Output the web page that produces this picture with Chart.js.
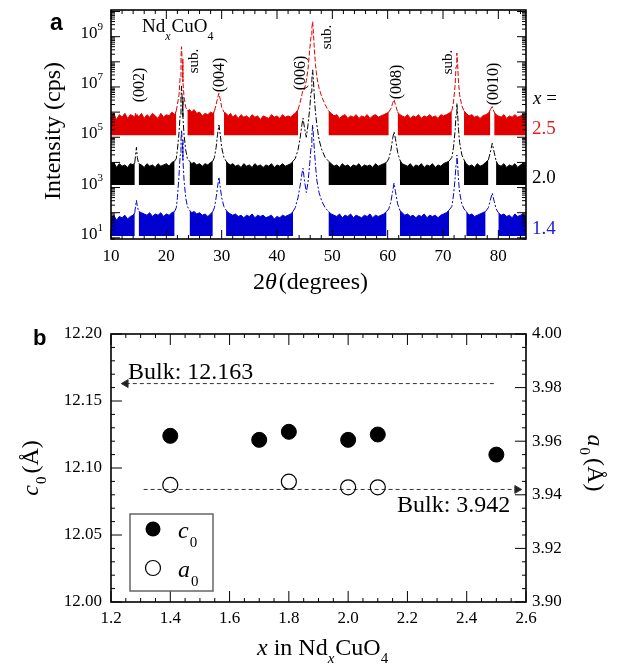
<!DOCTYPE html>
<html><head><meta charset="utf-8">
<script src="https://cdn.jsdelivr.net/npm/chart.js@4.4.0/dist/chart.umd.min.js"></script>
<style>
html,body{margin:0;padding:0;background:#fff;}
#wrap{position:relative;width:619px;height:667px;overflow:hidden;}
canvas{position:absolute;left:0;}
#ca{top:0;} #cb{top:300px;}
</style></head><body>
<div id="wrap"><canvas id="ca" width="619" height="300"></canvas><canvas id="cb" width="619" height="367"></canvas></div>
<script>
// ---------------- Panel a : XRD scans (log10 of intensity, cps) ----------------
const twoTheta = [
  10,10.5,11,11.5,12,12.5,13,13.5,14,
  14.3,14.45,14.6,14.75,15,
  15.5,16,16.5,17,17.5,18,18.5,19,19.5,20,20.5,21,21.5,
  21.8,22,22.3,22.5,22.65,22.75,22.85,23,23.2,23.5,23.8,
  24.2,24.6,25,25.5,26,26.5,27,27.5,28,28.4,
  28.7,29,29.25,29.5,29.75,30,30.4,
  30.8,31.2,31.6,32,32.5,33,33.5,34,34.5,35,35.5,36,36.5,37,37.5,38,38.5,39,39.5,40,40.5,41,41.5,42,42.5,42.9,
  43.3,43.8,44.2,44.5,44.7,44.95,45.3,45.6,45.9,46.15,46.3,46.45,46.6,46.75,46.95,47.2,47.6,48.1,48.7,49.3,
  49.8,50.3,50.8,51.3,51.8,52.3,52.8,53.3,53.8,54.3,54.8,55.3,55.8,56.3,56.8,57.3,57.8,58.3,58.8,59.3,59.8,
  60.2,60.6,60.9,61.15,61.4,61.8,62.2,
  62.6,63.1,63.6,64.1,64.6,65.1,65.6,66.1,66.6,67.1,67.6,68.1,68.6,69.1,69.6,70.1,70.6,71.1,
  71.6,71.9,72.2,72.35,72.5,72.65,72.8,73,73.4,73.8,
  74.2,74.7,75.2,75.7,76.2,76.7,77.2,77.7,
  78.2,78.55,78.9,79.25,79.6,
  80,80.5,81,81.5,82,82.5,83,83.5,84,84.5,85
];
const logI_x25 = [
  5.75,5.95,5.7,5.9,5.8,5.95,5.75,5.9,5.85,
  5.8,5.95,5.85,5.9,5.8,
  5.95,5.75,5.9,5.8,5.95,5.85,5.75,5.95,5.8,5.9,5.85,6.0,5.9,
  6.05,6.3,6.7,7.4,8.2,8.6,8.1,7.2,6.6,6.2,6.05,
  6.1,6.0,6.1,5.95,6.0,5.85,5.95,5.9,6.0,5.95,
  6.05,6.3,6.55,6.75,6.5,6.2,6.0,
  5.95,5.85,5.95,5.8,5.9,5.75,5.9,5.8,5.85,5.75,5.9,5.8,5.85,5.7,5.85,5.8,5.75,5.9,5.8,5.85,5.75,5.9,5.8,5.85,5.8,5.9,
  5.95,6.1,6.4,6.7,6.88,6.9,7.25,7.7,8.45,9.0,9.35,9.6,9.1,8.5,7.9,7.4,6.95,6.6,6.3,6.05,
  5.95,5.85,5.9,5.75,5.85,5.9,5.75,5.85,5.8,5.9,5.75,5.85,5.8,5.9,5.75,5.85,5.9,5.8,5.85,5.9,5.95,
  6.0,6.15,6.35,6.5,6.3,6.0,5.9,
  5.85,5.8,5.9,5.75,5.85,5.8,5.9,5.75,5.85,5.8,5.9,5.8,5.85,5.75,5.9,5.85,5.9,5.95,
  6.05,6.4,7.1,7.8,8.35,7.9,7.2,6.7,6.25,6.05,
  5.95,5.85,5.9,5.8,5.85,5.75,5.85,5.9,
  5.95,6.1,6.22,6.0,5.9,
  5.85,5.8,5.9,5.75,5.85,5.8,5.9,5.8,5.85,5.9,5.8
];
const logI_x20 = [
  3.85,4.0,3.8,3.95,3.85,3.9,3.8,3.95,3.9,
  4.0,4.3,4.6,4.2,3.95,
  3.9,3.8,3.95,3.85,3.9,3.8,3.95,3.85,3.9,3.95,3.85,4.0,4.05,
  4.15,4.5,5.2,5.9,6.6,7.04,6.6,5.8,5.1,4.5,4.15,
  4.05,3.95,4.0,3.9,3.95,3.85,3.95,3.9,4.0,4.05,
  4.2,4.6,5.1,5.49,5.1,4.6,4.2,
  4.05,3.95,3.9,3.95,3.85,3.9,3.8,3.95,3.85,3.9,3.8,3.95,3.85,3.9,3.8,3.9,3.85,3.95,3.8,3.9,3.85,3.95,3.85,3.9,3.95,4.05,
  4.15,4.5,5.0,5.5,5.76,5.4,5.0,5.5,6.1,6.8,7.3,7.68,7.2,6.6,6.0,5.5,4.9,4.5,4.2,4.05,
  3.95,3.85,3.9,3.8,3.95,3.85,3.9,3.8,3.9,3.85,3.95,3.8,3.9,3.85,3.9,3.8,3.95,3.85,3.9,3.95,4.0,
  4.15,4.5,4.95,5.22,4.95,4.4,4.1,
  3.95,3.9,3.85,3.95,3.8,3.9,3.85,3.95,3.8,3.9,3.85,3.95,3.8,3.9,3.85,3.95,4.0,4.05,
  4.2,4.6,5.3,5.9,6.35,5.9,5.3,4.8,4.3,4.1,
  3.95,3.85,3.9,3.8,3.95,3.85,3.9,4.0,
  4.1,4.4,4.76,4.4,4.05,
  3.9,3.85,3.95,3.8,3.9,3.85,3.95,3.8,3.9,3.95,3.85
];
const logI_x14 = [
  1.75,1.9,1.7,1.85,1.8,1.9,1.75,1.85,1.9,
  2.0,2.3,2.49,2.25,2.05,
  2.0,1.95,1.9,2.0,1.85,1.95,1.9,2.0,1.85,1.95,1.9,2.0,2.05,
  2.2,2.6,3.5,4.3,4.9,5.29,4.9,4.1,3.3,2.6,2.25,
  2.1,2.0,2.05,1.95,2.0,1.9,1.95,1.85,1.95,2.05,
  2.2,2.6,3.0,3.42,3.0,2.6,2.25,
  2.1,2.0,1.95,1.9,1.95,1.85,1.9,1.8,1.9,1.85,1.95,1.8,1.9,1.85,1.9,1.8,1.85,1.9,1.75,1.85,1.8,1.9,1.85,1.9,1.95,2.05,
  2.2,2.6,3.1,3.55,3.77,3.3,2.8,3.2,3.9,4.6,5.1,5.49,5.0,4.5,3.9,3.3,2.8,2.45,2.2,2.05,
  1.95,1.9,1.85,1.95,1.8,1.9,1.85,1.95,1.8,1.9,1.85,1.8,1.9,1.85,1.95,1.8,1.9,1.85,1.9,1.95,2.05,
  2.15,2.45,2.85,3.18,2.85,2.35,2.1,
  2.0,1.9,1.95,1.85,1.9,1.8,1.9,1.85,1.95,1.8,1.9,1.85,1.9,1.8,1.9,1.95,2.0,2.1,
  2.25,2.7,3.4,3.9,4.29,3.9,3.3,2.8,2.35,2.15,
  2.05,1.9,1.95,1.85,1.9,1.95,2.0,2.05,
  2.2,2.5,2.78,2.45,2.15,
  2.0,1.9,1.95,1.85,1.9,1.8,1.95,1.85,1.9,1.95,1.85
];
// noise band: lower edge and upper limit (log10 cps) for each scan
const bandFloor_x25 = 5.08, bandCeil_x25 = 6.12;
const bandFloor_x20 = 3.10, bandCeil_x20 = 4.12;
const bandFloor_x14 = 1.07, bandCeil_x14 = 2.12;
const scanLabels = ['2.5','2.0','1.4'];
const xTicksA = [10,20,30,40,50,60,70,80];
const yTicksA = [1e1,1e3,1e5,1e7,1e9];
const yTickExpA = ['1','3','5','7','9'];
const peakLabels = ['(002)','sub.','(004)','(006)','sub.','(008)','sub.','(0010)'];

// ---------------- Panel b : lattice constants ----------------
const xTicksB = [1.2,1.4,1.6,1.8,2.0,2.2,2.4,2.6];
const cTicks = [12.00,12.05,12.10,12.15,12.20];
const aTicks = [3.90,3.92,3.94,3.96,3.98,4.00];
const xNd_c0 = [1.4,1.7,1.8,2.0,2.1,2.5];
const c0 = [12.124,12.121,12.127,12.121,12.125,12.110];
const xNd_a0 = [1.4,1.8,2.0,2.1];
const a0 = [3.9437,3.9449,3.9428,3.9428];
const cBulk = 12.163, aBulk = 3.942;
const cBulkSpan = [1.25,2.495];
const aBulkSpan = [1.31,2.57];

// ---------------- helpers ----------------
const SERIF = '"Liberation Serif","Times New Roman",serif';
const SANS = '"Liberation Sans",Arial,sans-serif';
Chart.defaults.font.family = SERIF;
Chart.defaults.color = '#000';
const F = (s, st='') => `${st} ${s}px ${SERIF}`.trim();
function drawRich(ctx, parts, x, y){
  let cx = x;
  for (const p of parts){ ctx.font = p.f; ctx.fillText(p.t, cx, y + (p.dy||0)); cx += ctx.measureText(p.t).width + (p.gap||0); }
}
function richW(ctx, parts){ let w=0; for (const p of parts){ ctx.font=p.f; w += ctx.measureText(p.t).width + (p.gap||0);} return w; }
function drawRot(ctx, parts, cx, cy, ang){
  ctx.save(); ctx.translate(cx, cy); ctx.rotate(ang);
  const w = richW(ctx, parts); drawRich(ctx, parts, -w/2, 0); ctx.restore();
}
function seg(ctx, x1,y1,x2,y2){ ctx.beginPath(); ctx.moveTo(x1,y1); ctx.lineTo(x2,y2); ctx.stroke(); }

function scanDataset(logs, color, floor, ceil, dash){
  const isBand = c => Math.log10(c.p0.parsed.y) <= ceil && Math.log10(c.p1.parsed.y) <= ceil;
  return {
    data: twoTheta.map((t,i)=>({x:t, y:Math.pow(10, logs[i])})),
    borderColor: color, backgroundColor: color, borderWidth: 1, pointRadius: 0,
    fill: {value: Math.pow(10, floor)},
    segment: {
      backgroundColor: c => isBand(c) ? color : 'rgba(0,0,0,0)',
      borderDash: c => isBand(c) ? [] : dash
    }
  };
}

const RED = '#e00000', BLUE = '#0000d0';

const panelAPlugin = {
  id: 'panelA',
  afterDraw(chart){
    const {ctx, chartArea:a, scales:{x,y}} = chart;
    ctx.save();
    ctx.strokeStyle = '#000'; ctx.lineWidth = 1;
    for (let v=10; v<=85; v+=2){
      const p = x.getPixelForValue(v); const L = v%10===0 ? 9 : 4;
      seg(ctx,p,a.bottom,p,a.bottom-L); seg(ctx,p,a.top,p,a.top+L);
    }
    for (let e=0; e<=10; e++) for (let k=1; k<=9; k++){
      const v = k*Math.pow(10,e); if (v < y.min || v > y.max) continue;
      const p = y.getPixelForValue(v); const L = k===1 ? 9 : 4;
      seg(ctx,a.left,p,a.left+L,p); seg(ctx,a.right,p,a.right-L,p);
    }
    ctx.lineWidth = 1.6; ctx.strokeRect(a.left, a.top, a.right-a.left, a.bottom-a.top);
    ctx.fillStyle = '#000'; ctx.textAlign='left'; ctx.textBaseline='alphabetic';
    // y tick labels 10^n
    yTicksA.forEach((v,i)=>{
      const p = y.getPixelForValue(v);
      const parts = [{t:'10', f:F(17)}, {t:yTickExpA[i], f:F(11), dy:-8}];
      const w = richW(ctx, parts); drawRich(ctx, parts, 103 - w, p + 1);
    });
    // panel letter
    ctx.font = `bold 23px ${SANS}`; ctx.fillText('a', 50, 30);
    // compound
    drawRich(ctx, [{t:'Nd', f:F(19)}, {t:'x', f:F(12,'italic'), dy:8, gap:1}, {t:'CuO', f:F(19)}, {t:'4', f:F(12), dy:8}], 142, 32);
    // peak labels (rotated)
    const pos = [[140,85,16],[194,61,15],[220,75,16],[301,73,16],[327,37,15],[397,82,16],[448,62,15],[494,84,16]];
    peakLabels.forEach((t,i)=>{
      ctx.save(); ctx.translate(pos[i][0], pos[i][1]); ctx.rotate(-Math.PI/2);
      ctx.font = F(pos[i][2]); ctx.textAlign='center'; ctx.textBaseline='middle'; ctx.fillText(t,0,0); ctx.restore();
    });
    // x = labels
    ctx.textAlign='left'; ctx.textBaseline='alphabetic';
    drawRich(ctx, [{t:'x', f:F(19,'italic')}, {t:' =', f:F(19)}], 533, 104);
    ctx.font = F(19);
    ctx.fillStyle = '#e02020'; ctx.fillText(scanLabels[0], 532, 134);
    ctx.fillStyle = '#000'; ctx.fillText(scanLabels[1], 532, 183);
    ctx.fillStyle = '#2020d8'; ctx.fillText(scanLabels[2], 532, 234);
    ctx.fillStyle = '#000';
    // axis titles
    drawRich(ctx, [{t:'2', f:F(24)}, {t:'θ', f:F(24,'italic'), gap:2}, {t:'(degrees)', f:F(24)}], 253, 289);
    drawRot(ctx, [{t:'Intensity (cps)', f:F(24)}], 60, 131, -Math.PI/2);
    ctx.restore();
  }
};

new Chart(document.getElementById('ca'), {
  type: 'line',
  data: { datasets: [
    scanDataset(logI_x14, BLUE, bandFloor_x14, bandCeil_x14, [6,2,2,2]),
    scanDataset(logI_x20, '#000', bandFloor_x20, bandCeil_x20, [6,2,2,2]),
    scanDataset(logI_x25, RED, bandFloor_x25, bandCeil_x25, [5,2])
  ]},
  options: {
    responsive:false, animation:false, devicePixelRatio:1,
    layout:{padding:{left:0, right:93, top:10, bottom:0}},
    plugins:{legend:{display:false}, tooltip:{enabled:false}},
    scales:{
      x:{type:'linear', min:10, max:85,
         afterBuildTicks: s => { s.ticks = xTicksA.map(v=>({value:v})); },
         afterFit: s => { s.height = 61; },
         ticks:{color:'#000', font:{family:SERIF, size:17}, padding:7, maxRotation:0, autoSkip:false, callback: v => String(v)},
         grid:{display:false, drawTicks:false}, border:{display:false}},
      y:{type:'logarithmic', min:9, max:1.15e10,
         afterFit: s => { s.width = 111; },
         ticks:{display:false}, grid:{display:false, drawTicks:false}, border:{display:false}}
    }
  },
  plugins:[panelAPlugin]
});

// ---------------- Panel b ----------------
const panelBPlugin = {
  id: 'panelB',
  afterDraw(chart){
    const {ctx, chartArea:a, scales:{x,y,y2}} = chart;
    ctx.save();
    ctx.strokeStyle = '#000'; ctx.lineWidth = 1;
    for (let i=0; i<=28; i++){
      const p = x.getPixelForValue(1.2 + i*0.05); const L = i%4===0 ? 11 : 4;
      seg(ctx,p,a.bottom,p,a.bottom-L); seg(ctx,p,a.top,p,a.top+L);
    }
    for (let i=0; i<=20; i++){
      const p = y.getPixelForValue(12 + i*0.01); const L = i%5===0 ? 11 : 4;
      seg(ctx,a.left,p,a.left+L,p);
      const q = y2.getPixelForValue(3.9 + i*0.005); const M = i%4===0 ? 11 : 4;
      seg(ctx,a.right,q,a.right-M,q);
    }
    ctx.lineWidth = 1.6; ctx.strokeRect(a.left, a.top, a.right-a.left, a.bottom-a.top);
    ctx.fillStyle = '#000'; ctx.textAlign='left'; ctx.textBaseline='alphabetic';
    ctx.font = `bold 22px ${SANS}`; ctx.fillText('b', 33, 45);
    ctx.font = F(24);
    ctx.fillText('Bulk: ' + cBulk.toFixed(3), 128, 79);
    ctx.fillText('Bulk: ' + aBulk.toFixed(3), 397, 212);
    // legend
    ctx.strokeStyle = '#666'; ctx.lineWidth = 1.5; ctx.strokeRect(130, 214, 83, 77);
    ctx.beginPath(); ctx.arc(153, 229, 7.5, 0, 2*Math.PI); ctx.fill();
    ctx.strokeStyle = '#000'; ctx.lineWidth = 1.2;
    ctx.beginPath(); ctx.arc(153, 268, 7.5, 0, 2*Math.PI); ctx.stroke();
    drawRich(ctx, [{t:'c', f:F(24,'italic'), gap:1}, {t:'0', f:F(15), dy:9}], 178, 238);
    drawRich(ctx, [{t:'a', f:F(24,'italic'), gap:1}, {t:'0', f:F(15), dy:9}], 178, 277);
    // titles
    drawRot(ctx, [{t:'c', f:F(24,'italic'), gap:1}, {t:'0', f:F(15), dy:8, gap:3}, {t:'(Å)', f:F(24)}], 38, 168, -Math.PI/2);
    drawRot(ctx, [{t:'a', f:F(24,'italic'), gap:1}, {t:'0', f:F(15), dy:8, gap:3}, {t:'(Å)', f:F(24)}], 588, 163, Math.PI/2);
    drawRich(ctx, [{t:'x', f:F(24,'italic')}, {t:' in Nd', f:F(24)}, {t:'x', f:F(15,'italic'), dy:8, gap:1}, {t:'CuO', f:F(24)}, {t:'4', f:F(15), dy:8}], 257, 355);
    ctx.restore();
  }
};

new Chart(document.getElementById('cb'), {
  type: 'scatter',
  data: { datasets: [
    {data: xNd_c0.map((v,i)=>({x:v, y:c0[i]})), yAxisID:'y', pointStyle:'circle', pointRadius:7.5,
     backgroundColor:'#000', borderColor:'#000', borderWidth:1},
    {data: xNd_a0.map((v,i)=>({x:v, y:a0[i]})), yAxisID:'y2', pointStyle:'circle', pointRadius:7.5,
     backgroundColor:'rgba(0,0,0,0)', borderColor:'#000', borderWidth:1.2},
    {data: cBulkSpan.map(v=>({x:v, y:cBulk})), yAxisID:'y', showLine:true, borderColor:'#333', borderWidth:1,
     borderDash:[4,3], pointStyle:'triangle', pointRadius:[4.5,0], pointRotation:[270,0], backgroundColor:'#222'},
    {data: aBulkSpan.map(v=>({x:v, y:aBulk})), yAxisID:'y2', showLine:true, borderColor:'#333', borderWidth:1,
     borderDash:[4,3], pointStyle:'triangle', pointRadius:[0,4.5], pointRotation:[0,90], backgroundColor:'#222'}
  ]},
  options: {
    responsive:false, animation:false, devicePixelRatio:1,
    layout:{padding:{left:0, right:0, top:34, bottom:0}},
    plugins:{legend:{display:false}, tooltip:{enabled:false}},
    scales:{
      x:{type:'linear', min:1.2, max:2.6,
         afterBuildTicks: s => { s.ticks = xTicksB.map(v=>({value:v})); },
         afterFit: s => { s.height = 65; },
         ticks:{color:'#000', font:{family:SERIF, size:17}, padding:6, maxRotation:0, autoSkip:false, callback: v => v.toFixed(1)},
         grid:{display:false, drawTicks:false}, border:{display:false}},
      y:{type:'linear', position:'left', min:12.0, max:12.2,
         afterBuildTicks: s => { s.ticks = cTicks.map(v=>({value:v})); },
         afterFit: s => { s.width = 111; },
         ticks:{color:'#000', font:{family:SERIF, size:17}, padding:9, autoSkip:false, callback: v => v.toFixed(2)},
         grid:{display:false, drawTicks:false}, border:{display:false}},
      y2:{type:'linear', position:'right', min:3.90, max:4.00,
         afterBuildTicks: s => { s.ticks = aTicks.map(v=>({value:v})); },
         afterFit: s => { s.width = 93; },
         ticks:{color:'#000', font:{family:SERIF, size:17}, padding:6, autoSkip:false, callback: v => v.toFixed(2)},
         grid:{display:false, drawTicks:false}, border:{display:false}}
    }
  },
  plugins:[panelBPlugin]
});
</script></body></html>
